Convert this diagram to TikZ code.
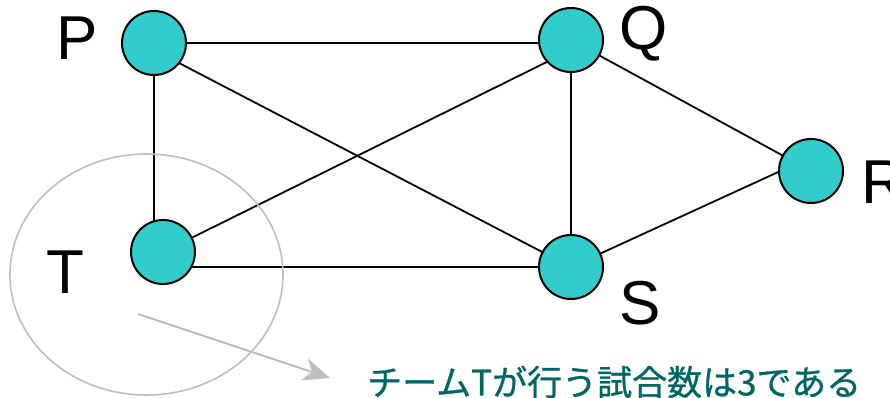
\documentclass[tikz,border=0pt]{standalone}
\usepackage{fontspec}
\setmainfont{Liberation Sans}
\newfontfamily\jpfont[FakeBold=0.8]{Noto Sans CJK JP}
\usetikzlibrary{arrows.meta,shapes.geometric,backgrounds}
\definecolor{nodecyan}{RGB}{51,204,204}
\definecolor{ringgray}{RGB}{190,190,190}
\definecolor{noteteal}{RGB}{0,102,102}
\begin{document}
\begin{tikzpicture}[x=1pt,y=-1pt,
  team/.style={circle,draw=black,line width=2pt,fill=nodecyan,minimum size=64pt,inner sep=0pt},
  edge/.style={line width=1.8pt,black},
  lbl/.style={font=\fontsize{62}{62}\selectfont,inner sep=0pt},
  ring/.style={ellipse,draw=ringgray,line width=1.6pt,minimum width=273pt,minimum height=241pt,inner sep=0pt},
  pointer/.style={draw=ringgray,line width=2pt,-{Stealth[length=27pt,width=23pt,inset=8pt]}},
  note/.style={font=\jpfont\fontsize{35}{35}\selectfont,text=noteteal,inner sep=0pt}]
\useasboundingbox (0,0) rectangle (890,398);
\node[team] (P) at (154,43) {};
\node[team] (Q) at (571,40) {};
\node[team] (R) at (811,171) {};
\node[team] (T) at (163,252) {};
\node[team] (S) at (571,267) {};
\begin{scope}[on background layer]
  \draw[edge] (P.center) -- (P.center -| Q.center);
  \draw[edge] (P.center) -- (P.center |- T.center);
  \draw[edge] ([yshift=-7pt]P.center) -- (S.center);
  \draw[edge] (T.center) -- ([yshift=-10pt]Q.center);
  \draw[edge] (T.center |- S.center) -- (S.center);
  \draw[edge] (Q.center) -- (S.center);
  \draw[edge] (Q.center) -- (R.center);
  \draw[edge] (S.center) -- ([yshift=14pt]R.center);
\end{scope}
\node[lbl,anchor=base] (Plbl) at (77,60) {P};
\node[lbl,anchor=base] (Qlbl) at (644,50) {Q};
\node[lbl,anchor=base west] (Rlbl) at (861,203) {R};
\node[lbl,anchor=base] (Tlbl) at (65,293) {T};
\node[lbl,anchor=base] (Slbl) at (640,324) {S};
\node[ring] (ring) at (146.5,274.5) {};
\node[note,anchor=west] (note) at (367,382) {チームTが行う試合数は3である};
\coordinate (arrstart) at (138,314);
\coordinate (arrend) at (330,378);
\draw[pointer] (arrstart) -- (arrend);
\end{tikzpicture}
\end{document}
